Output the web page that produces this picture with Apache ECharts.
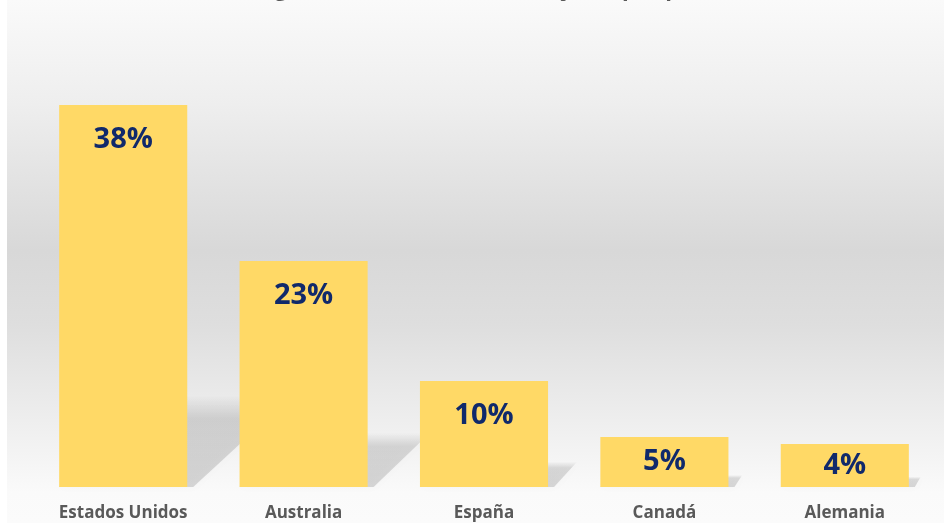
<!DOCTYPE html>
<html>
<head>
    <meta charset="utf-8">
    <title>ECharts</title>
    <script src="https://cdn.jsdelivr.net/npm/echarts@6/dist/echarts.min.js"></script>
</head>
<body style="margin:0">
    <div id="main" style="width: 944px;height:523px;"></div>

    <script type="text/javascript">
        // datos
        var paises = ['Estados Unidos', 'Australia', 'España', 'Canadá', 'Alemania'];
        var valores = [38.2, 22.6, 10.6, 5.0, 4.3];
        var etiquetas = ['38%', '23%', '10%', '5%', '4%'];
        var titulo = 'Segmento de turistas extranjeros por países';

        var myChart = echarts.init(document.getElementById('main'));

        // sombra en perspectiva detrás de cada barra
        function sombra(params, api) {
            var i = api.value(0);
            var base = api.coord([i, 0]);
            var tope = api.coord([i, api.value(1)]);
            var w = api.size([1, 0])[0] * 0.71;
            var x0 = base[0] - w / 2, x1 = base[0] + w / 2, y0 = base[1];
            var h = (base[1] - tope[1]) * 0.24;
            var dx = h * 1.15;
            return {
                type: 'polygon',
                shape: { points: [[x0, y0], [x1 + 6, y0], [x1 + dx, y0 - h], [x0 + dx, y0 - h]] },
                style: {
                    fill: new echarts.graphic.LinearGradient(0, 0, 0, 1, [
                        { offset: 0, color: 'rgba(0,0,0,0)' },
                        { offset: 0.25, color: 'rgba(0,0,0,0.12)' },
                        { offset: 1, color: 'rgba(0,0,0,0.14)' }
                    ]),
                    shadowBlur: 8,
                    shadowColor: 'rgba(0,0,0,0.12)'
                },
                silent: true
            };
        }

        var datosBarras = valores.map(function (v, i) {
            var item = { value: v };
            if (v < 7) {
                item.label = { position: 'inside', distance: 0 };
            }
            return item;
        });

        option = {
            animation: false,
            backgroundColor: '#ffffff',
            graphic: [
                {
                    type: 'rect', z: -10, silent: true,
                    shape: { x: 7, y: 0, width: 937, height: 523 },
                    style: {
                        fill: new echarts.graphic.LinearGradient(0, 0, 0, 1, [
                            { offset: 0, color: '#fafafa' },
                            { offset: 0.2, color: '#eeeeee' },
                            { offset: 0.48, color: '#d8d8d8' },
                            { offset: 0.62, color: '#dedede' },
                            { offset: 0.85, color: '#f2f2f2' },
                            { offset: 0.94, color: '#fafafa' },
                            { offset: 1, color: '#fbfbfb' }
                        ])
                    }
                },
                {
                    type: 'text', x: 492, y: -21, silent: true,
                    style: {
                        text: titulo,
                        font: 'bold 22px "Open Sans"',
                        fill: '#595959',
                        align: 'center',
                        verticalAlign: 'top'
                    }
                }
            ],
            grid: { left: 33, right: 9, top: 87, bottom: 36 },
            xAxis: {
                type: 'category',
                data: paises,
                axisLine: { show: false },
                axisTick: { show: false },
                axisLabel: {
                    margin: 18,
                    color: '#595959',
                    fontFamily: 'Open Sans',
                    fontWeight: 'bold',
                    fontSize: 17
                }
            },
            yAxis: {
                type: 'value',
                min: 0,
                max: 40,
                show: false,
                splitLine: { show: false }
            },
            series: [
                {
                    type: 'custom',
                    z: 1,
                    renderItem: sombra,
                    data: valores.map(function (v, i) { return [i, v]; })
                },
                {
                    type: 'bar',
                    z: 2,
                    barWidth: '71%',
                    data: datosBarras,
                    itemStyle: { color: '#FFD966' },
                    label: {
                        show: true,
                        position: 'insideTop',
                        distance: 20,
                        color: '#10296B',
                        fontFamily: 'Open Sans',
                        fontWeight: 'bold',
                        fontSize: 29,
                        formatter: function (p) { return etiquetas[p.dataIndex]; }
                    }
                }
            ]
        };

        myChart.setOption(option);
    </script>
</body>
</html>
